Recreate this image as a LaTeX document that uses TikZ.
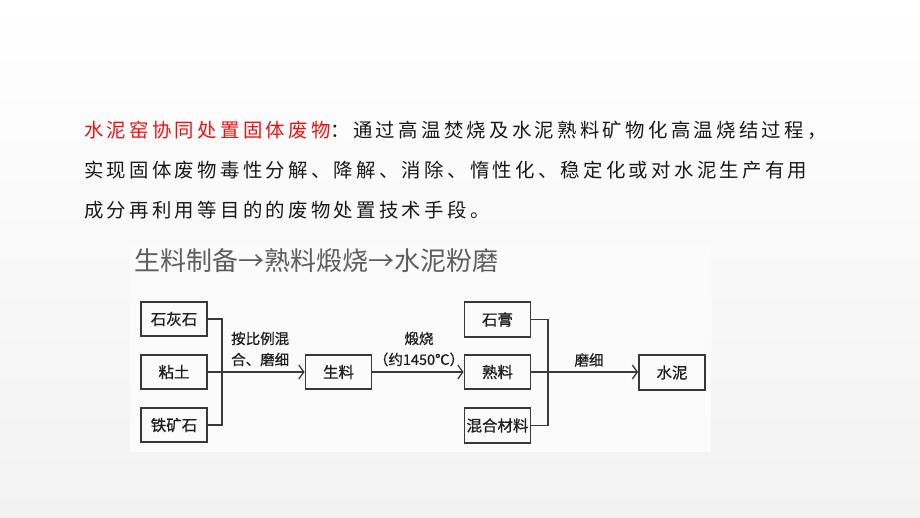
\documentclass[tikz,border=0pt]{standalone}
\usepackage{fontspec}
\usetikzlibrary{arrows.meta}
\newfontfamily\cjk{Noto Sans CJK SC}
\newfontfamily\cjkb[FakeBold=0.8]{Noto Sans CJK SC}
\newfontfamily\cjksp[LetterSpace=17]{Noto Sans CJK SC}
\definecolor{bgb}{HTML}{F2F2F2}
\definecolor{imgbg}{HTML}{FBFBFB}
\definecolor{boxc}{HTML}{383838}
\definecolor{linec}{HTML}{3A3A3A}
\definecolor{dtext}{HTML}{1E1E1E}
\definecolor{ptext}{HTML}{1A1A1A}
\definecolor{ttlc}{HTML}{5E5E5E}
\definecolor{redc}{HTML}{F01010}
\begin{document}
\begin{tikzpicture}[x=1pt,y=-1pt,
  box/.style={draw=boxc, line width=1.8pt, minimum width=66pt, minimum height=34.5pt, inner sep=0pt, font=\cjkb\fontsize{15.5pt}{15.5pt}\selectfont, text=dtext},
  conn/.style={draw=linec, line width=1.3pt},
  arr/.style={conn, -{Straight Barb[length=5pt,width=14pt]}},
  lbl/.style={font=\cjkb\fontsize{14.5pt}{21pt}\selectfont, text=dtext, inner sep=0pt},
  para/.style={anchor=west, inner sep=0pt, font=\cjksp\fontsize{19.4pt}{19.4pt}\selectfont, text=ptext}]
\useasboundingbox (0,0) rectangle (920,518);
\shade[top color=white, bottom color=bgb] (0,0) rectangle (920,518);
\fill[imgbg] (130,245) rectangle (711,452);

% paragraph
\node[para] (p1) at (84,130) {\textcolor{redc}{水泥窑协同处置固体废物}：通过高温焚烧及水泥熟料矿物化高温烧结过程，};
\node[para] (p2) at (84,170) {实现固体废物毒性分解、降解、消除、惰性化、稳定化或对水泥生产有用};
\node[para] (p3) at (84,210) {成分再利用等目的的废物处置技术手段。};

% title
\node[anchor=west, inner sep=0pt, text=ttlc, font=\cjk\fontsize{26pt}{26pt}\selectfont] (ttl) at (134,261) {生料制备→熟料煅烧→水泥粉磨};

% boxes
\node[box] (b1) at (174,319) {石灰石};
\node[box] (b2) at (174,372) {粘土};
\node[box] (b3) at (174,425) {铁矿石};
\node[box] (raw) at (338.5,372) {生料};
\node[box] (c1) at (497.5,319.5) {石膏};
\node[box] (c2) at (497.5,372) {熟料};
\node[box] (c3) at (497.5,425.5) {混合材料};
\node[box] (cem) at (672,372.5) {水泥};

\coordinate (jl) at (222,372);
\coordinate (jr) at (548,372);

\draw[conn] (b1.east) -| (jl);
\draw[conn] (b3.east) -| (jl);
\draw[arr] (b2.east) -- (raw.west);
\draw[arr] (raw.east) -- (c2.west);
\draw[conn] (c1.east) -| (jr);
\draw[conn] (c3.east) -| (jr);
\draw[arr] (c2.east) -- (cem.west |- c2.east);

% labels
\node[lbl, anchor=west, align=left] (l1) at (231,349) {按比例混\\合、磨细};
\node[lbl, align=center] (l2) at (419,349) {煅烧\\（约1450℃）};
\node[lbl] (l3) at (589,360) {磨细};
\end{tikzpicture}
\end{document}
